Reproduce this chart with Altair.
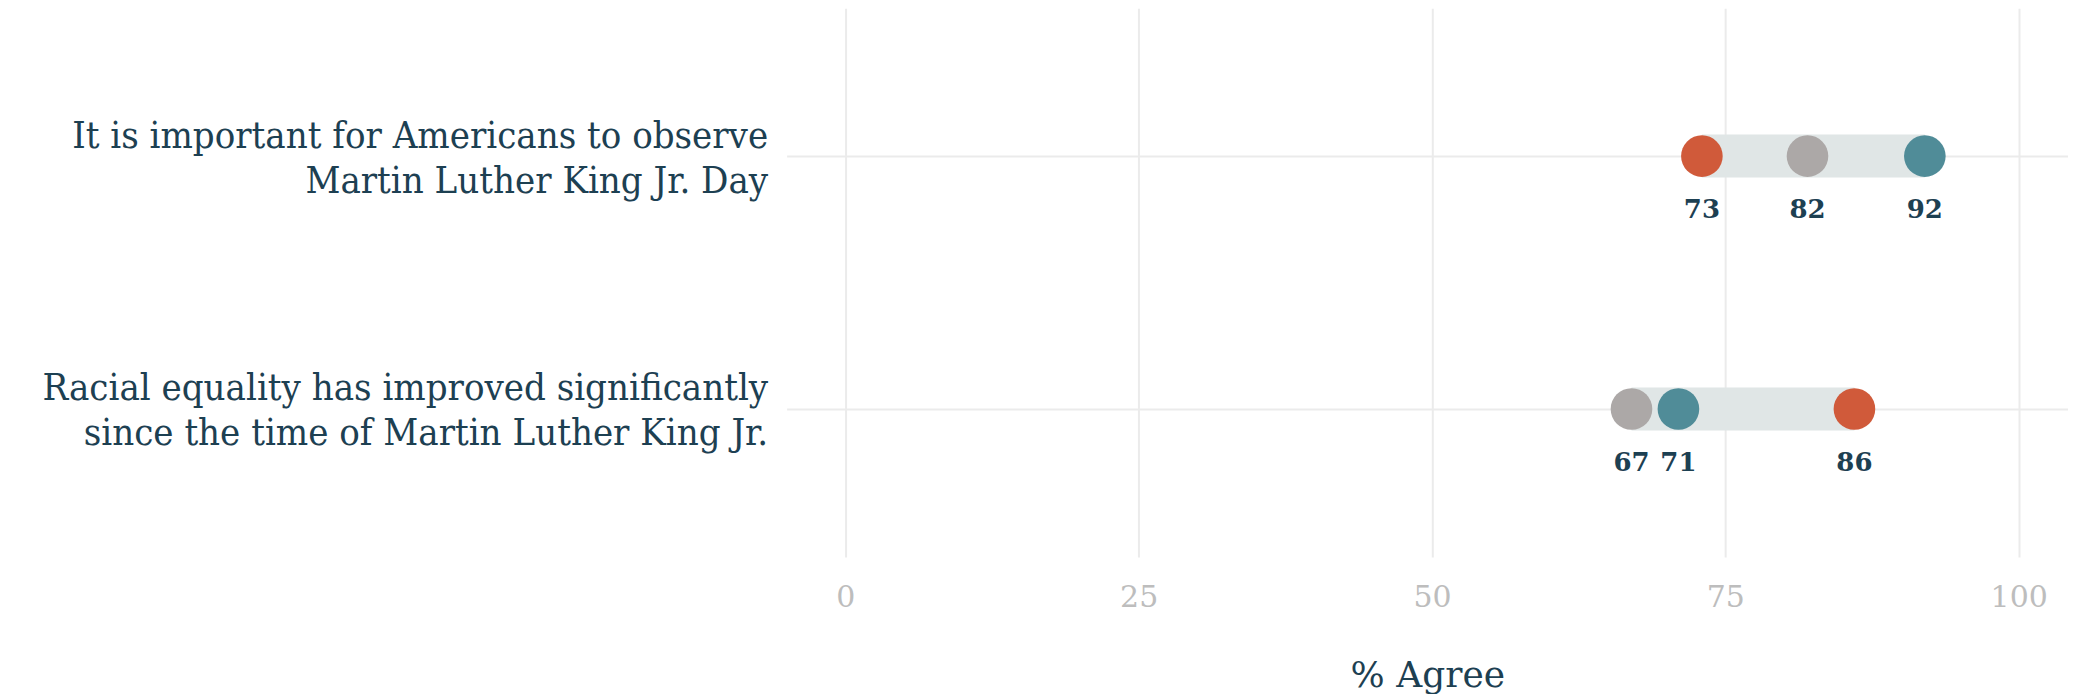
import altair as alt
import pandas as pd

# ---- data ----
statements = [
    "It is important for Americans to observe|Martin Luther King Jr. Day",
    "Racial equality has improved significantly|since the time of Martin Luther King Jr.",
]
groups = ["Group A", "Overall", "Group B"]
group_a = [73, 86]
overall = [82, 67]
group_b = [92, 71]
x_ticks = [0, 25, 50, 75, 100]

rows = []
for i, s in enumerate(statements):
    for g, vals in zip(groups, [group_a, overall, group_b]):
        rows.append({"statement": s, "group": g, "value": vals[i]})
df = pd.DataFrame(rows)

DARK = "#1D4052"
SERIF = "DejaVu Serif"
COND = "DejaVu Serif Condensed, DejaVu Serif"

x_scale = alt.Scale(domain=[-5, 104.2], nice=False, zero=False)
y_enc = alt.Y(
    "statement:N",
    sort=statements,
    scale=alt.Scale(type="point", padding=0.585),
    axis=alt.Axis(
        title=None,
        labelExpr="split(datum.label, '|')",
        labelFont=COND,
        labelFontSize=38,
        labelLineHeight=45,
        labelColor=DARK,
        labelLimit=1000,
        labelPadding=19,
        labelBaseline="middle",
        labelOffset=-20,
        ticks=False,
        domain=False,
        grid=True,
        gridColor="#EBEBEB",
        gridWidth=2,
        minExtent=779,
        maxExtent=779,
    ),
)

base = alt.Chart(df)

band = base.mark_rule(strokeWidth=43, strokeCap="butt", color="#E0E6E6").encode(
    x=alt.X(
        "min(value):Q",
        scale=x_scale,
        axis=alt.Axis(
            values=x_ticks,
            title="% Agree",
            titleFont=SERIF,
            titleFontSize=36,
            titleFontWeight="normal",
            titleColor=DARK,
            titlePadding=46,
            labelFont=SERIF,
            labelFontSize=30,
            labelColor="#BDBDBD",
            labelPadding=26,
            ticks=False,
            domain=False,
            grid=True,
            gridColor="#EBEBEB",
            gridWidth=2,
        ),
    ),
    x2="max(value):Q",
    y=y_enc,
)

dots = base.mark_circle(size=1735, opacity=1).encode(
    x=alt.X("value:Q", scale=x_scale),
    y=y_enc,
    color=alt.Color(
        "group:N",
        scale=alt.Scale(domain=groups, range=["#D05A3A", "#ACA8A7", "#508C98"]),
        legend=None,
    ),
)

labels = base.mark_text(
    dy=54, font=SERIF, fontSize=26, fontWeight="bold", color=DARK, baseline="middle"
).encode(
    x=alt.X("value:Q", scale=x_scale),
    y=y_enc,
    text=alt.Text("value:Q"),
)

chart = (
    alt.layer(band, dots, labels)
    .properties(width=1282, height=549, padding={"left": 0, "top": 0, "right": 0, "bottom": 0})
    .configure_view(stroke=None)
)

chart.save("out.html", embed_options={"renderer": "svg", "actions": False})
